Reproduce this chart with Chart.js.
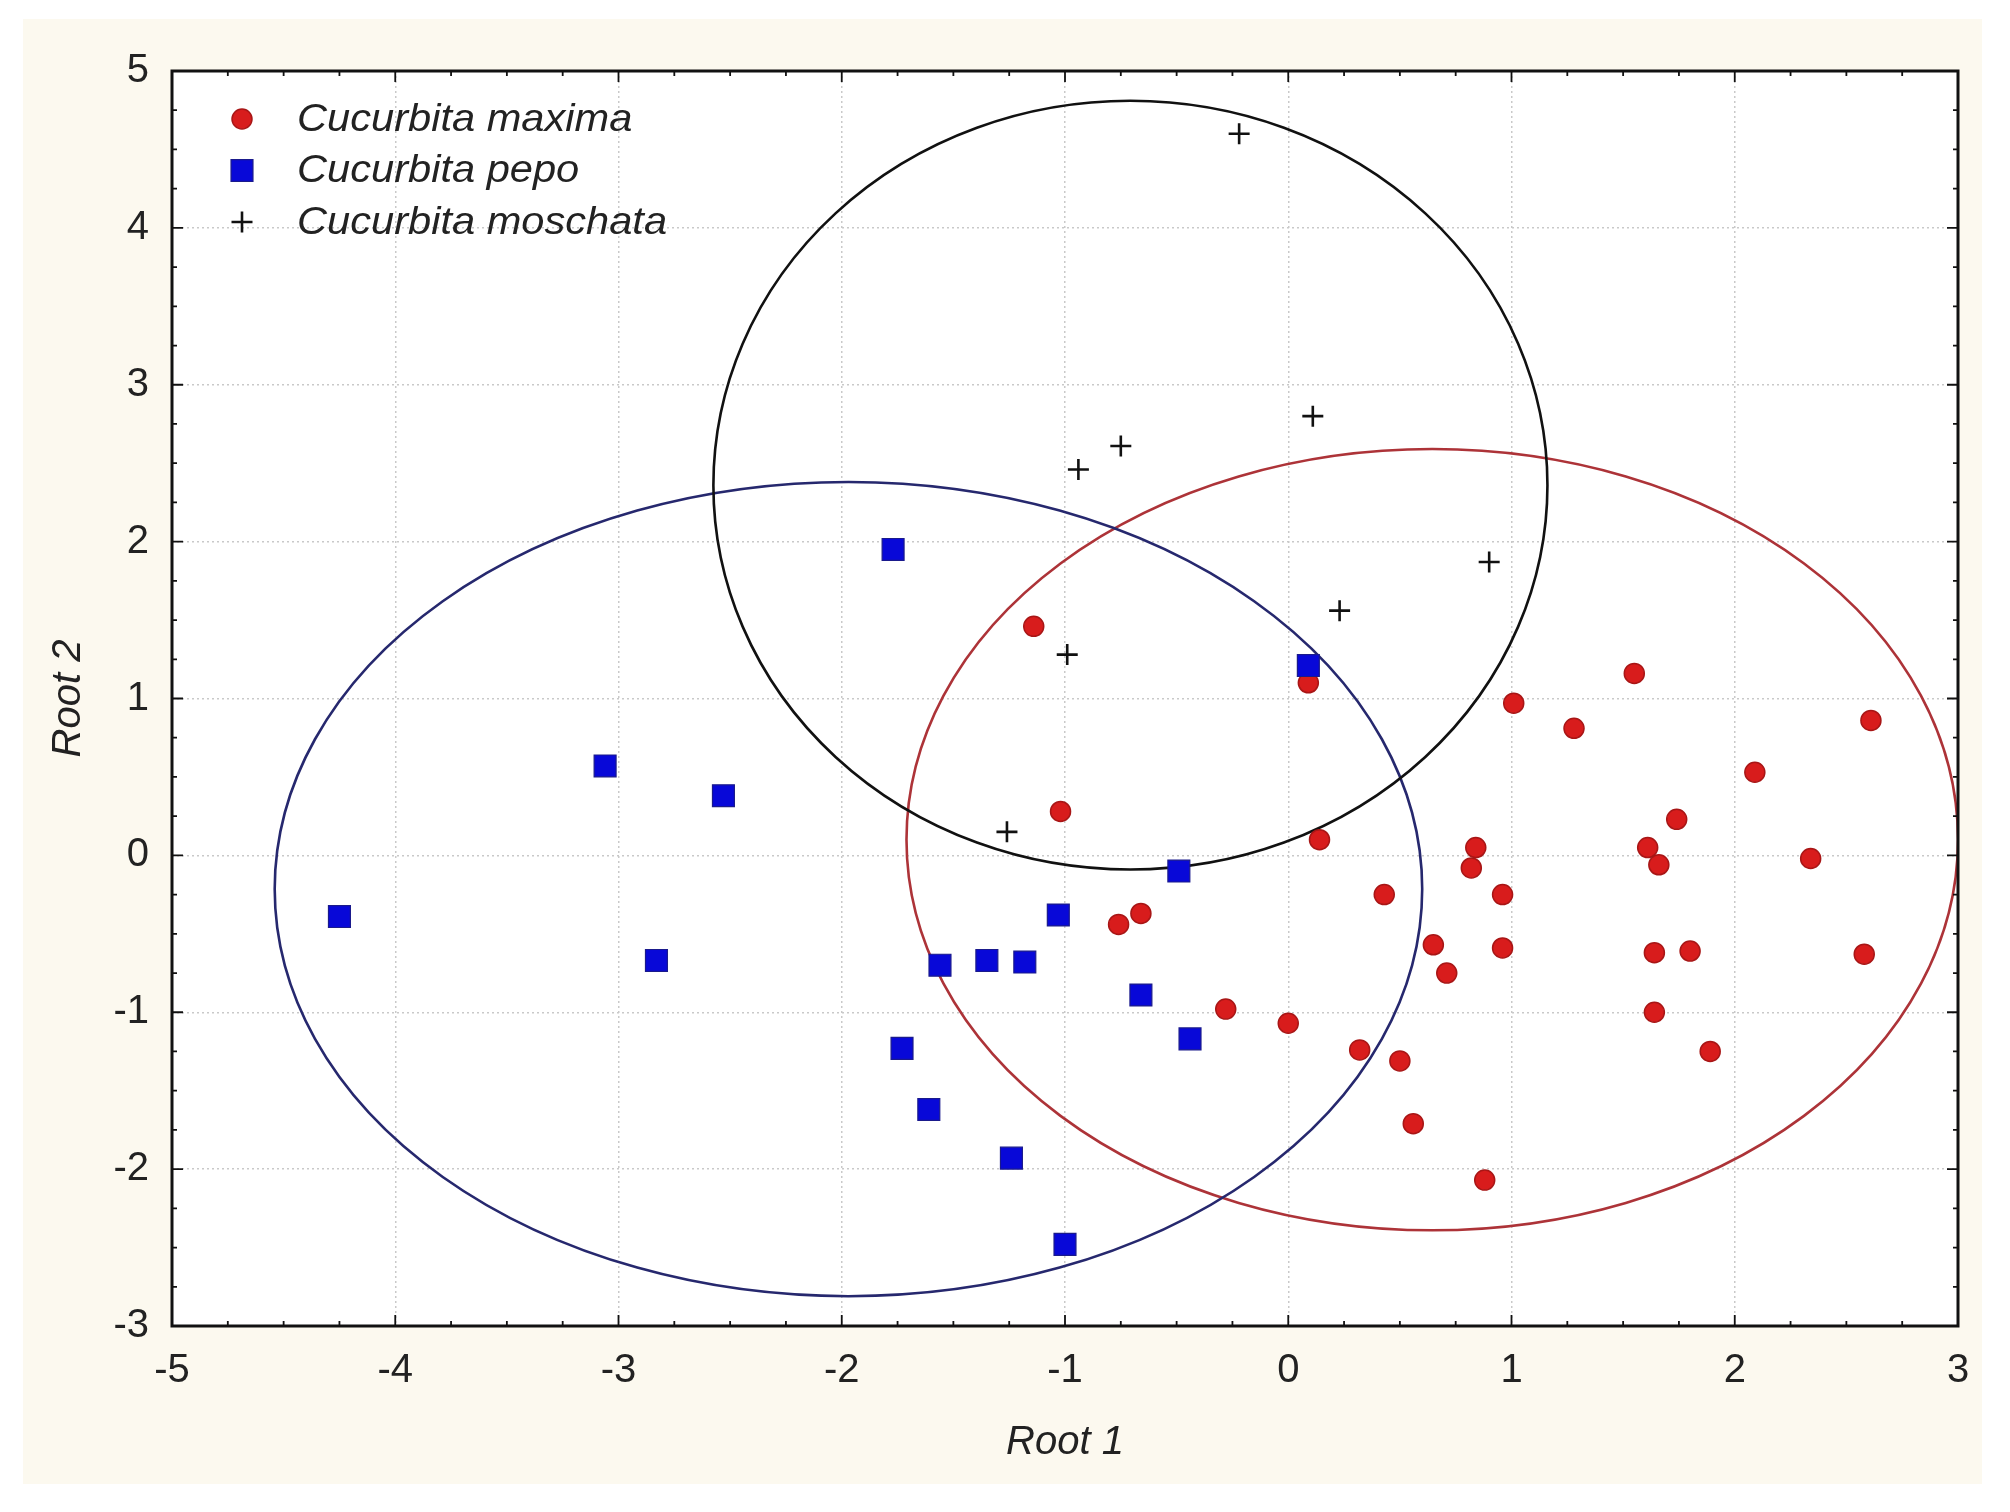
<!DOCTYPE html>
<html lang="en">
<head>
<meta charset="utf-8">
<title>Cucurbita - Root 1 vs Root 2</title>
<script src="https://cdn.jsdelivr.net/npm/chart.js@4.4.1/dist/chart.umd.min.js"></script>
<style>
  html, body { margin: 0; padding: 0; background: #ffffff; }
  #box { position: relative; width: 2010px; height: 1512px; }
</style>
</head>
<body>
<div id="box"><canvas id="rootChart" width="2010" height="1512"></canvas></div>
<script>
// scores of each accession on the two discriminant roots
const maximaX = [-1.14, -1.02, 0.09, 0.14, -0.76, -0.66, -0.28, 0.00, 0.32, 0.43, 0.50, 0.56, 0.65, 0.71, 0.82, 0.84, 0.88, 0.96, 0.96,
                 1.01, 1.28, 1.55, 1.61, 1.66, 1.64, 1.64, 1.74, 1.80, 1.89, 2.09, 2.34, 2.58, 2.61];
const maximaY = [1.46, 0.28, 1.10, 0.10, -0.44, -0.37, -0.98, -1.07, -1.24, -0.25, -1.31, -1.71, -0.57, -0.75, -0.08, 0.05, -2.07, -0.25, -0.59,
                 0.97, 0.81, 1.16, 0.05, -0.06, -0.62, -1.00, 0.23, -0.61, -1.25, 0.53, -0.02, -0.63, 0.86];

const pepoX = [-4.25, -3.06, -2.83, -2.53, -1.77, -1.73, -1.61, -1.56, -1.35, -1.24, -1.18, -1.03, -1.00, -0.66, -0.49, -0.44, 0.09];
const pepoY = [-0.39, 0.57, -0.67, 0.38, 1.95, -1.23, -1.62, -0.70, -0.67, -1.93, -0.68, -0.38, -2.48, -0.89, -0.10, -1.17, 1.21];

const moschataX = [-0.22, 0.11, -0.75, -0.94, 0.90, 0.23, -0.99, -1.26];
const moschataY = [4.60, 2.80, 2.61, 2.46, 1.87, 1.56, 1.28, 0.15];

const speciesNames = ["Cucurbita maxima", "Cucurbita pepo", "Cucurbita moschata"];

// confidence ellipses (maxima, pepo, moschata), in root units
const ellipseCx = [0.645, -1.97, -0.707];
const ellipseCy = [0.10, -0.215, 2.36];
const ellipseRx = [2.355, 2.57, 1.868];
const ellipseRy = [2.49, 2.595, 2.45];

const xTickValues = [-5, -4, -3, -2, -1, 0, 1, 2, 3];
const yTickValues = [-3, -2, -1, 0, 1, 2, 3, 4, 5];

const FONT = "'Liberation Sans', Arial, sans-serif";
const ellipseColors = ["#ad3338", "#26286e", "#111111"];

function toPoints(xs, ys) {
  return xs.map(function (x, i) { return { x: x, y: ys[i] }; });
}

// page background: cream panel
const panelBg = {
  id: "panelBg",
  beforeDraw(chart) {
    const ctx = chart.ctx;
    ctx.save();
    ctx.fillStyle = "#ffffff";
    ctx.fillRect(0, 0, chart.width, chart.height);
    ctx.fillStyle = "#fcf9ef";
    ctx.fillRect(23, 19, 1959, 1465);
    const a = chart.chartArea;
    ctx.fillStyle = "#ffffff";
    ctx.fillRect(a.left, a.top, a.right - a.left, a.bottom - a.top);
    ctx.restore();
  }
};

const ellipses = {
  id: "ellipses",
  beforeDatasetsDraw(chart) {
    const ctx = chart.ctx, xs = chart.scales.x, ys = chart.scales.y, a = chart.chartArea;
    ctx.save();
    ctx.beginPath();
    ctx.rect(a.left, a.top, a.right - a.left, a.bottom - a.top);
    ctx.clip();
    ctx.lineWidth = 2.6;
    for (let i = 0; i < ellipseCx.length; i++) {
      const cx = xs.getPixelForValue(ellipseCx[i]);
      const cy = ys.getPixelForValue(ellipseCy[i]);
      const rx = Math.abs(xs.getPixelForValue(ellipseCx[i] + ellipseRx[i]) - cx);
      const ry = Math.abs(ys.getPixelForValue(ellipseCy[i] + ellipseRy[i]) - cy);
      ctx.strokeStyle = ellipseColors[i];
      ctx.beginPath();
      ctx.ellipse(cx, cy, rx, ry, 0, 0, Math.PI * 2);
      ctx.stroke();
    }
    ctx.restore();
  }
};

// black frame with inward major/minor ticks on every side
const frame = {
  id: "frame",
  afterDraw(chart) {
    const ctx = chart.ctx, xs = chart.scales.x, ys = chart.scales.y, a = chart.chartArea;
    ctx.save();
    ctx.strokeStyle = "#111111";
    ctx.lineWidth = 1.8;
    ctx.beginPath();
    for (let v = xs.min; v <= xs.max + 1e-9; v += 0.25) {
      const p = xs.getPixelForValue(v);
      const len = Math.abs(v - Math.round(v)) < 1e-6 ? 11 : 5;
      ctx.moveTo(p, a.bottom); ctx.lineTo(p, a.bottom - len);
      ctx.moveTo(p, a.top); ctx.lineTo(p, a.top + len);
    }
    for (let v = ys.min; v <= ys.max + 1e-9; v += 0.25) {
      const p = ys.getPixelForValue(v);
      const len = Math.abs(v - Math.round(v)) < 1e-6 ? 11 : 5;
      ctx.moveTo(a.left, p); ctx.lineTo(a.left + len, p);
      ctx.moveTo(a.right, p); ctx.lineTo(a.right - len, p);
    }
    ctx.stroke();
    ctx.lineWidth = 3;
    ctx.strokeRect(a.left, a.top, a.right - a.left, a.bottom - a.top);
    ctx.restore();
  }
};

function drawMarker(ctx, ds, x, y) {
  ctx.fillStyle = ds.backgroundColor;
  ctx.strokeStyle = ds.borderColor;
  ctx.lineWidth = ds.borderWidth;
  ctx.beginPath();
  if (ds.pointStyle === "circle") {
    ctx.arc(x, y, ds.pointRadius, 0, Math.PI * 2);
    ctx.fill(); ctx.stroke();
  } else if (ds.pointStyle === "rect") {
    const h = ds.pointRadius * Math.SQRT1_2;
    ctx.rect(x - h, y - h, 2 * h, 2 * h);
    ctx.fill(); ctx.stroke();
  } else {
    const r = ds.pointRadius;
    ctx.moveTo(x - r, y); ctx.lineTo(x + r, y);
    ctx.moveTo(x, y - r); ctx.lineTo(x, y + r);
    ctx.stroke();
  }
}

// legend inside the plot, top-left (text a bit stretched like the original)
const insideLegend = {
  id: "insideLegend",
  afterDraw(chart) {
    const ctx = chart.ctx, a = chart.chartArea;
    chart.data.datasets.forEach(function (ds, i) {
      const y = a.top + 48 + i * 51.5;
      ctx.save();
      drawMarker(ctx, ds, a.left + 70, y);
      ctx.restore();
      ctx.save();
      ctx.font = "italic 38px " + FONT;
      ctx.textBaseline = "middle";
      ctx.textAlign = "left";
      ctx.fillStyle = "#222222";
      ctx.translate(a.left + 125, y + 1);
      ctx.scale(1.095, 1);
      ctx.fillText(ds.label, 0, 0);
      ctx.restore();
    });
  }
};

const ctx = document.getElementById("rootChart").getContext("2d");

const rootChart = new Chart(ctx, {
  type: "scatter",
  data: {
    datasets: [
      {
        label: speciesNames[0],
        data: toPoints(maximaX, maximaY),
        pointStyle: "circle",
        pointRadius: 10,
        backgroundColor: "#d81c1c",
        borderColor: "#a81616",
        borderWidth: 1.5,
        order: 3
      },
      {
        label: speciesNames[1],
        data: toPoints(pepoX, pepoY),
        pointStyle: "rect",
        pointRadius: 15.5,
        backgroundColor: "#0808d8",
        borderColor: "#1a1a8c",
        borderWidth: 1.2,
        order: 2
      },
      {
        label: speciesNames[2],
        data: toPoints(moschataX, moschataY),
        pointStyle: "cross",
        pointRadius: 10.5,
        backgroundColor: "#111111",
        borderColor: "#111111",
        borderWidth: 2.6,
        order: 1
      }
    ]
  },
  options: {
    responsive: false,
    devicePixelRatio: 1,
    animation: false,
    events: [],
    layout: { padding: { top: 71, right: 52, bottom: 0, left: 0 } },
    plugins: {
      legend: { display: false },
      tooltip: { enabled: false }
    },
    scales: {
      x: {
        type: "linear",
        min: -5,
        max: 3,
        afterBuildTicks: function (scale) { scale.ticks = xTickValues.map(function (v) { return { value: v }; }); },
        afterFit: function (scale) { scale.height = 186; },
        ticks: { font: { family: FONT, size: 40 }, color: "#222222", padding: 21, maxRotation: 0 },
        grid: { color: "#c9c9c9", lineWidth: 1.5, drawTicks: false },
        border: { display: false, dash: [2, 3] },
        title: { display: true, text: "Root 1", font: { family: FONT, size: 40, style: "italic" }, color: "#222222", padding: { top: 0, bottom: 45 } }
      },
      y: {
        type: "linear",
        min: -3,
        max: 5,
        afterBuildTicks: function (scale) { scale.ticks = yTickValues.map(function (v) { return { value: v }; }); },
        afterFit: function (scale) { scale.width = 172; },
        ticks: { font: { family: FONT, size: 40 }, color: "#222222", padding: 23 },
        grid: { color: "#c9c9c9", lineWidth: 1.5, drawTicks: false },
        border: { display: false, dash: [2, 3] },
        title: { display: true, text: "Root 2", font: { family: FONT, size: 40, style: "italic" }, color: "#222222", padding: { top: 45, bottom: 0 } }
      }
    }
  },
  plugins: [panelBg, ellipses, frame, insideLegend]
});
</script>
</body>
</html>
